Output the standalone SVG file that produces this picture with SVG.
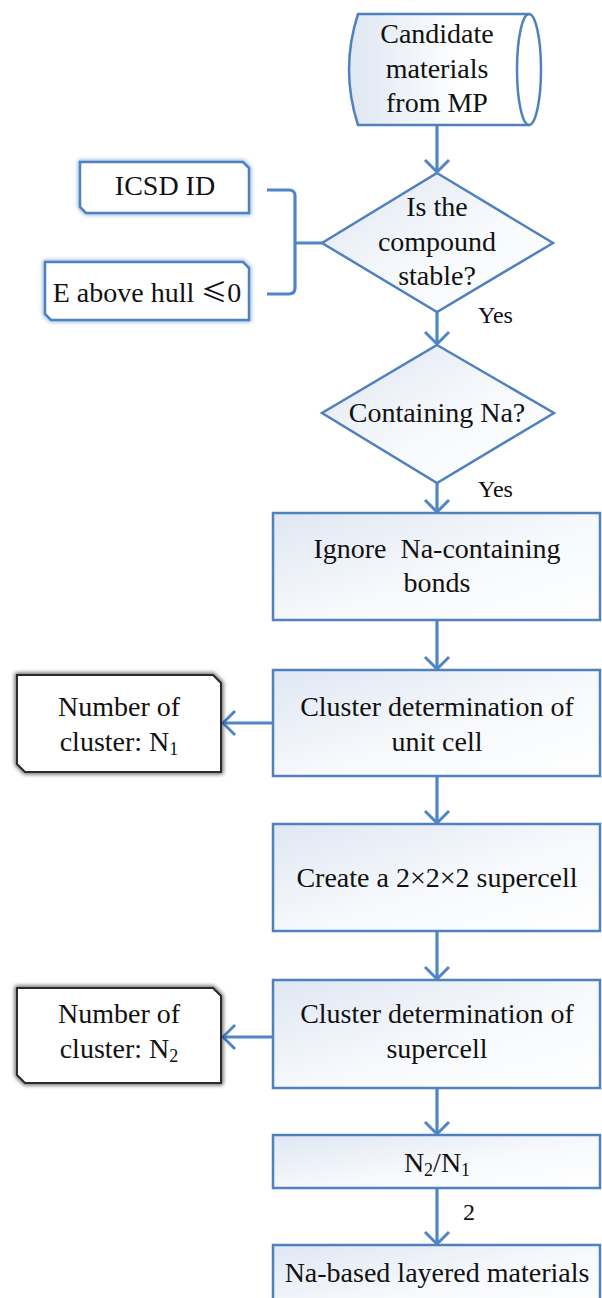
<svg xmlns="http://www.w3.org/2000/svg" width="602" height="1298" viewBox="0 0 602 1298">
<defs>
<linearGradient id="gBox" x1="0" y1="0" x2="1" y2="1">
<stop offset="0" stop-color="#dfe7f3"/>
<stop offset="0.55" stop-color="#f7f9fc"/>
<stop offset="1" stop-color="#ffffff"/>
</linearGradient>
<linearGradient id="gCyl" x1="0" y1="0" x2="1" y2="0">
<stop offset="0" stop-color="#dfe7f3"/>
<stop offset="0.6" stop-color="#ffffff"/>
</linearGradient>
<filter id="blueGlow" x="-10%" y="-20%" width="120%" height="140%">
<feGaussianBlur stdDeviation="2"/>
</filter>
<filter id="darkGlow" x="-10%" y="-20%" width="120%" height="140%">
<feGaussianBlur stdDeviation="2.2"/>
</filter>
<marker id="arr" viewBox="-14 -14 16 28" refX="0" refY="0" markerWidth="16" markerHeight="28" markerUnits="userSpaceOnUse" orient="auto">
<path d="M-12,-12 L0,0 L-12,12" fill="none" stroke="#4f86c6" stroke-width="3"/>
</marker>
</defs>
<style>
text{font-family:'Liberation Serif','Tinos','Times New Roman','DejaVu Serif',serif;fill:#111}
.t{font-size:28px;text-anchor:middle}
.s{font-size:24px;text-anchor:start}
.box{fill:url(#gBox);stroke:#4f81bd;stroke-width:2.5}
.dia{fill:url(#gBox);stroke:#4f81bd;stroke-width:2.5}
.ln{fill:none;stroke:#4f86c6;stroke-width:3.2}
.snipB{fill:#ffffff;stroke:#4f81bd;stroke-width:2.5}
.glowB{fill:none;stroke:#6f9fd8;stroke-width:4;opacity:0.8}
.snipD{fill:#ffffff;stroke:#2b2b2b;stroke-width:2}
.glowD{fill:none;stroke:#000;stroke-width:4;opacity:0.7}
.cjk{font-family:'Noto Sans CJK SC',sans-serif;font-size:26px}
</style>

<g id="connectors">
<path class="ln" d="M437,125 V172" marker-end="url(#arr)"/>
<path class="ln" d="M437,312 V344" marker-end="url(#arr)"/>
<path class="ln" d="M437,483 V512" marker-end="url(#arr)"/>
<path class="ln" d="M437,620 V669" marker-end="url(#arr)"/>
<path class="ln" d="M437,776 V823" marker-end="url(#arr)"/>
<path class="ln" d="M437,931 V979" marker-end="url(#arr)"/>
<path class="ln" d="M437,1088 V1134" marker-end="url(#arr)"/>
<path class="ln" d="M437,1188 V1244" marker-end="url(#arr)"/>
<path class="ln" d="M273,723 H223" marker-end="url(#arr)"/>
<path class="ln" d="M273,1037 H223" marker-end="url(#arr)"/>
<path class="ln" stroke-width="4" d="M267,190 H289 Q295,190 295,196 V288 Q295,294 289,294 H267 M295,243 H322"/>
<text class="s" x="478" y="323">Yes</text>
<text class="s" x="478" y="497">Yes</text>
<text class="s" x="463" y="1220" font-size="26">2</text>
</g>

<g id="candidate">
<path d="M358,14 H529 A12,55.5 0 0 1 529,125 H358 Q340,69.5 358,14 Z" fill="url(#gCyl)" stroke="#4f81bd" stroke-width="2.5"/>
<path d="M529,14 A12,55.5 0 0 0 529,125" fill="none" stroke="#4f81bd" stroke-width="2.5"/>
<text class="t" x="437" y="43">Candidate</text>
<text class="t" x="437" y="78">materials</text>
<text class="t" x="437" y="112">from MP</text>
</g>

<g id="stable">
<polygon class="dia" points="437,173 553,243 437,312 322,243"/>
<text class="t" x="437" y="216">Is the</text>
<text class="t" x="437" y="251">compound</text>
<text class="t" x="437" y="285">stable?</text>
</g>

<g id="icsd">
<path class="glowB" filter="url(#blueGlow)" d="M80,162 H243 L249,168 V213 H86 L80,207 Z"/>
<path class="snipB" d="M80,162 H243 L249,168 V213 H86 L80,207 Z"/>
<text class="t" x="165" y="195">ICSD ID</text>
</g>

<g id="ehull">
<path class="glowB" filter="url(#blueGlow)" d="M45,262 H243 L249,268 V320 H51 L45,314 Z"/>
<path class="snipB" d="M45,262 H243 L249,268 V320 H51 L45,314 Z"/>
<text class="t" x="147" y="302">E above hull <tspan class="cjk">≤</tspan>0</text>
</g>

<g id="na">
<polygon class="dia" points="437,345 554,413 437,483 322,413"/>
<text class="t" x="437" y="422">Containing Na?</text>
</g>

<g id="ignore">
<rect class="box" x="273" y="513" width="327" height="107"/>
<text class="t" x="437" y="558" xml:space="preserve">Ignore  Na-containing</text>
<text class="t" x="437" y="592">bonds</text>
</g>

<g id="unitcell">
<rect class="box" x="273" y="670" width="327" height="106"/>
<text class="t" x="437" y="716">Cluster determination of</text>
<text class="t" x="437" y="751">unit cell</text>
</g>

<g id="n1">
<path class="glowD" filter="url(#darkGlow)" d="M17,675 H213 L221,683 V772 H25 L17,764 Z"/>
<path class="snipD" d="M17,675 H213 L221,683 V772 H25 L17,764 Z"/>
<text class="t" x="119" y="716">Number of</text>
<text class="t" x="119" y="751">cluster: N<tspan font-size="18" dy="4">1</tspan></text>
</g>

<g id="supercellcreate">
<rect class="box" x="273" y="824" width="327" height="107"/>
<text class="t" x="437" y="887">Create a 2×2×2 supercell</text>
</g>

<g id="supercell">
<rect class="box" x="273" y="980" width="327" height="108"/>
<text class="t" x="437" y="1023">Cluster determination of</text>
<text class="t" x="437" y="1058">supercell</text>
</g>

<g id="n2">
<path class="glowD" filter="url(#darkGlow)" d="M17,988 H213 L221,996 V1083 H25 L17,1075 Z"/>
<path class="snipD" d="M17,988 H213 L221,996 V1083 H25 L17,1075 Z"/>
<text class="t" x="119" y="1023">Number of</text>
<text class="t" x="119" y="1058">cluster: N<tspan font-size="18" dy="4">2</tspan></text>
</g>

<g id="ratio">
<rect class="box" x="273" y="1135" width="327" height="53"/>
<text class="t" x="437" y="1172">N<tspan font-size="18" dy="4">2</tspan><tspan dy="-4">/N</tspan><tspan font-size="18" dy="4">1</tspan></text>
</g>

<g id="result">
<rect class="box" x="273" y="1245" width="327" height="70"/>
<text class="t" x="437" y="1282">Na-based layered materials</text>
</g>
</svg>
